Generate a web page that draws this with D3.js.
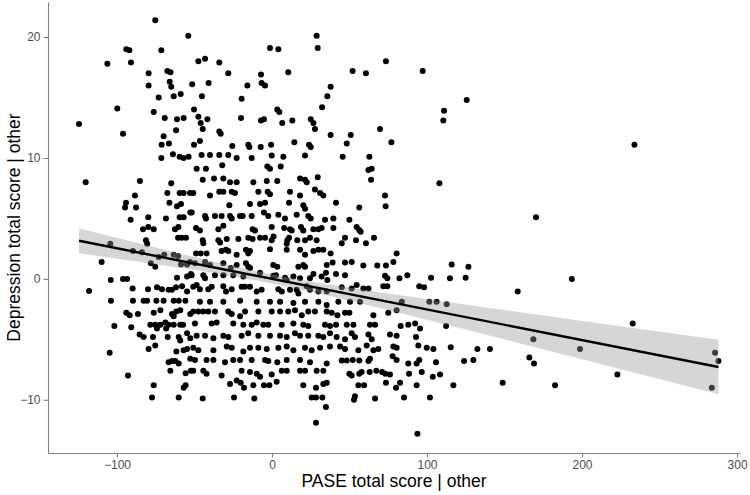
<!DOCTYPE html>
<html>
<head>
<meta charset="utf-8">
<script src="https://cdn.jsdelivr.net/npm/d3@7"></script>
<style>
  body { margin: 0; background: #fff; }
  text { font-family: "Liberation Sans", Arial, sans-serif; }
</style>
</head>
<body>
<div id="chart"></div>
<script>
// PASE total score | other  vs  Depression total score | other
const points = [
  [-75.3,21.4],[-54,20.1],[-94,19.0],[-92,18.9],[-71.4,18.9],[-106.2,17.8],[-91,17.9],[-79.6,17.0],[-67.5,17.2],[-65.5,17.1],
  [-79.6,16.0],[-66,16.3],[-65,15.9],[-73.1,15.0],[-63.4,15.1],[-58.9,15.3],[-99.8,14.1],[-76.3,13.8],[-124.5,12.8],[-69.2,13.3],
  [-61.3,13.2],[-57,13.3],[-96.1,12.0],[-61.9,12.3],[-69.9,11.8],[-71.2,11.1],[-66.5,11.2],[-63.9,10.3],
  [-71.4,10.0],[-59.6,10.1],[-57,10.0],[-53.8,10.1],[-120.2,8.0],[-85.2,8.1],[-65,7.9],[-88.4,6.9],[-67.5,7.1],[-59.6,7.1],
  [-57,7.1],[-52.9,7.1],[-94.2,6.3],[-94.8,5.9],[-87.7,5.9],[-66.2,6.3],[-61.3,6.0],[-58.7,6.2],[-52.7,5.5],[-91.2,4.9],
  [-79.8,5.1],[-68.4,5.0],[-59.6,5.1],[-57,5.1],[-83.2,4.1],[-79.8,4.3],[-76.3,4.1],[-62.6,4.1],[-60.4,4.3],[-81.3,3.2],
  [-80.5,2.9],[-60.6,3.4],[-58.3,3.4],[-55.5,3.4],[-104.3,2.9],[-89.7,2.3],[-83.9,2.2],[-73.1,1.8],[-69.5,2.0],[-63.4,2.0],
  [-60.6,1.9],[-109.9,1.4],[-78.1,1.3],[-75.3,1.0],[-58.7,1.2],[-54.8,1.2],[-54.8,0.2],[-52.3,0.4],[-61.3,0.1],[-104,-0.1],
  [-96.1,0],[-93.5,0],[-118,-1.0],[-89.9,-0.8],[-80,-0.85],[-74.2,-0.7],[-71,-0.85],[-66.7,-0.9],[-64.5,-0.9],[-61.9,-0.7],
  [-58,-0.6],[-54.8,-1.05],[-103.9,-1.8],[-89.7,-1.8],[-82.8,-1.8],[-80.6,-1.8],[-74.6,-1.8],[-69.9,-1.8],[-63.4,-1.8],[-60.2,-1.8],
  [-55.9,-1.8],
  [-94,-2.8],[-91.8,-3.0],[-86.5,-2.9],[-76.3,-2.8],[-72,-2.6],[-64.5,-2.9],[-61.7,-2.7],[-59.2,-2.6],[-63.4,-3.1],[-52.7,-2.9],
  [-101.7,-3.9],[-90.8,-4.0],[-78.5,-3.8],[-75.3,-3.8],[-72,-3.8],[-68.8,-3.6],[-66.7,-3.8],[-63.4,-3.8],[-59.2,-3.8],[-57.4,-3.8],
  [-74.2,-4.1],[-68.3,-4.1],[-85.4,-4.6],[-82.8,-4.8],[-76.8,-4.8],[-67.3,-4.8],[-60.2,-4.8],[-59.2,-5.1],[-54.8,-4.5],[-52.7,-4.9],
  [-75.3,-5.5],[-104.7,-6.1],[-79.6,-5.8],[-61.7,-6.0],[-57,-5.9],[-54.8,-5.8],[-52.7,-6.6],[-66.7,-6.9],[-64.5,-6.8],[-62.4,-6.8],
  [-60.2,-7.0],[-65.6,-7.6],[-55.7,-7.8],[-52.3,-7.6],[-92.9,-8.0],[-76.3,-8.8],[-57,-9.0],[-55.7,-8.8],[-77.4,-9.8],[-60.2,-9.8],
  [28.8,20.1],[29.5,19.1],[-1.3,19.1],[4.1,19.0],[-47.5,18.0],[-43.2,18.2],[-34,17.9],[-28.2,17.0],[-7.1,16.9],[10.5,17.1],
  [-51.5,16.1],[-40.9,16.2],[-15.9,16.0],[-6.7,16.2],[-4.5,16.0],[37.8,15.9],[-45.2,15.1],[-19.6,14.9],[35.7,15.1],[32.3,14.2],
  [-50.3,14.0],[3.4,14.0],[4.7,13.8],[-47.5,13.4],[-46,12.9],[-41.7,13.2],[-20,13.3],[-7.1,13.1],[-5.2,13.2],[6.6,12.9],
  [13.1,13.1],[25,13.2],[26.7,12.9],[27.7,12.4],[-44.7,12.4],[-34,12.2],[-33.1,12.0],[37.8,11.9],[-50.3,11.1],[-46.5,11.4],
  [-25.6,11.0],[-15.3,11.1],[-14.6,10.9],[-7.3,10.9],[-0.6,11.1],[14.4,11.3],[23.9,11.1],[25,10.9],
  [-45.4,10.25],[-40,10.25],[-34,10.25],[-28.2,10.25],[-22.8,10.0],[-13.1,10.0],[-0.2,10.2],[7.3,10.1],[21.3,10.2],
  [-48.6,9.1],[-42.6,9.1],[-32.1,9.4],[-3,9.3],[-1.3,9.1],[5.6,9.3],
  [-44.7,8.2],[-37.4,8.3],[-31.4,8.3],[-27.1,8.0],[-22.8,8.0],[-12,8.0],[-3.4,8.1],[3.4,8.1],[18.1,8.3],[21.3,8.2],[22.4,8.0],[29.5,8.4],
  [-50.8,7.1],[-40,6.9],[-34,7.2],[-31.4,7.2],[-26,7.2],[-23.9,7.1],[-8.8,7.2],[-2.8,7.2],[-1.3,7.0],[11.6,7.2],[18.1,6.9],[27.7,7.4],[31,7.1],[33.1,6.9],
  [-27.5,6.1],[-14.2,6.2],[-7.7,6.2],[-4.5,6.3],[11,6.3],[20.2,6.1],[21.3,5.8],
  [-51.8,5.5],[-43.2,5.2],[-42.6,5.0],[-36.8,5.2],[-32.5,5.2],[-27.1,5.2],[-26,5.0],[-20.6,5.2],[-18.9,5.2],[-13.1,5.2],
  [-5.2,5.5],[-2.4,5.2],[4.1,5.3],[8.4,5.0],[15.9,5.3],[23.4,5.2],[25,5.0],[34.2,4.9],[39.6,5.0],
  [-49,4.2],[-46.5,4.0],[-34.6,4.1],[-31.4,4.4],[-12.5,4.1],[-11,4.0],[-0.2,4.3],[7.9,4.2],[11.6,4.1],[12.7,4.0],
  [18.7,4.3],[20.2,4.0],[26.7,4.1],[29.9,4.1],[32,4.2],[39.6,4.2],
  [-44.7,3.2],[-44.3,2.95],[-34.6,3.2],[-33.5,3.0],[-29.2,3.3],[-21.7,3.3],[-15.3,3.4],[-12.5,3.3],[-7.7,3.4],[-4.5,3.4],
  [-0.2,3.2],[1,3.5],[9.9,3.2],[11,3.4],[9.5,2.9],[16.3,3.2],[21.3,3.2],[24.5,3.4],[28.8,3.2],
  [-49,2.1],[-46,2.1],[-42.2,2.1],[-32.5,2.3],[-29.7,2.4],[-28.2,2.3],[-22.8,2.0],[-16.8,2.4],[-15.3,2.1],[-14.2,2.3],
  [-1.3,2.45],[9.5,2.4],[18.1,2.4],[21.3,2.0],[26.7,2.3],[29.9,2.4],[33.1,2.4],[37.8,2.1],
  [-52.9,1.4],[-49.7,1.3],[-43.2,1.4],[-40,1.15],[-31.4,1.3],[-26.6,0.9],[-22.8,1.15],[-16.8,1.3],[-15.3,1.0],[-14.2,0.9],
  [0.8,1.15],[3.4,1.0],[17,1.0],[20.2,1.15],[21.3,1.0],[35.3,1.15],[34.8,0.5],
  [-51.8,0.3],[-44.3,0.3],[-43.2,0.05],[-36.8,0.3],[-31.4,0.3],[-25,0.3],[-18.5,0.2],[-7.7,0.5],[0.8,0.25],[2.6,0.3],
  [8.4,0.1],[9.5,-0.1],[13.8,0.2],[18.1,0.05],[24.5,0.05],[26.7,0.4],[32,0.2],[35.7,-0.1],
  [-50.8,-0.65],[-48.6,-0.5],[-46.5,-0.85],[-41.1,-0.85],[-38.9,-0.65],[-31.4,-0.6],[-29.7,-1.05],[-26,-0.85],[-19.6,-0.65],[-17.4,-0.65],
  [-14.2,-0.65],[-9.9,-1.05],[-6.7,-0.9],[4.1,-0.85],[6.3,-1.05],[11.6,-0.9],[15.9,-0.9],[17,-1.2],[22.4,-0.6],[24.5,-0.9],
  [29.9,-1.05],[35.3,-1.05],
  [-46.5,-1.9],[-40,-1.9],[-31.4,-1.9],[-20.6,-1.8],[-9.9,-1.9],[-1.3,-1.9],[5.2,-1.9],[13.8,-2.0],[21.3,-1.9],[29.9,-1.9],[35.3,-2.15],
  [-50.8,-2.7],[-47.5,-2.7],[-44.3,-2.7],[-41.1,-2.7],[-36.8,-2.7],[-28.2,-2.7],[-26,-2.9],[-20.6,-3.1],[-17.4,-2.7],[-8.8,-2.7],
  [-0.2,-2.7],[5.2,-2.7],[10.5,-2.7],[14.8,-2.6],[19.2,-3.0],[23.4,-2.7],[27.7,-2.7],[35.3,-2.7],
  [-49.7,-3.7],[-38.9,-3.7],[-35.7,-3.6],[-25,-3.7],[-18.5,-3.8],[-13.1,-3.8],[-9.9,-3.6],[-5.6,-3.8],[-2.4,-3.8],[6.3,-3.8],
  [13.8,-3.7],[20.2,-3.8],[23.4,-3.9],[34.2,-3.8],[37.4,-3.9],
  [-48.6,-4.7],[-43.2,-4.7],[-37.8,-4.9],[-31.4,-4.7],[-28.2,-4.8],[-19.6,-4.7],[-15.3,-4.5],[-8.8,-4.7],[-1.3,-4.7],[5.2,-4.7],
  [9.5,-4.8],[14.8,-4.5],[18.1,-4.7],[23.4,-4.7],[29.9,-4.7],[33.1,-4.8],[37.4,-4.5],
  [-50.8,-5.7],[-47.5,-5.9],[-37.8,-5.9],[-29.2,-5.6],[-26,-5.7],[-18.5,-6.0],[-14.2,-5.7],[-8.8,-5.7],[-3.4,-5.8],[4.1,-5.7],
  [9.5,-5.6],[13.8,-5.9],[21.3,-5.7],[25.6,-5.9],[31,-5.7],[37.4,-5.6],
  [-49.7,-6.7],[-42.2,-6.7],[-37.8,-6.7],[-30.3,-6.9],[-25,-6.7],[-20.6,-6.7],[-13.1,-6.7],[-4.5,-6.7],[-2.4,-6.8],[3.4,-6.9],
  [9.5,-6.7],[18.1,-6.7],[24.5,-6.9],[35.3,-7.0],
  [-50.8,-7.6],[-44.3,-7.6],[-42.2,-7.85],[-32.5,-8.0],[-19.6,-7.6],[-14.2,-7.7],[-9.9,-7.85],[-7.7,-8.1],[-0.2,-7.9],[6.3,-7.6],
  [9.5,-7.6],[18.1,-7.6],[21.3,-7.6],[28.8,-7.6],[33.1,-7.6],
  [-27.1,-8.7],[-22.8,-8.4],[-20.2,-8.6],[-18.1,-9.0],[-12,-8.8],[-5.2,-8.8],[-1.7,-8.8],[3,-8.5],[20.2,-8.8],[28.4,-9.0],
  [33.1,-8.7],[35.3,-8.6],
  [-44.7,-9.9],[-24.5,-9.8],[-11.4,-9.9],[25.6,-9.8],[28.4,-9.8],[32.5,-9.8],[34.8,-10.6],[28.4,-11.9],
  [73.5,18.0],[52,17.2],[60.6,17.0],[97.2,17.2],[125.6,14.8],[111,13.9],[110.5,13.1],[69.7,12.4],[50.8,11.9],[48.2,11.2],[77,11.3],
  [45.6,10.1],[62.8,10.1],[62.2,9.0],[64.3,9.1],[63.9,8.2],[108,7.9],[72.9,6.9],[73.3,6.0],[41.3,6.3],[56.3,5.9],
  [49.9,4.9],[54.6,4.3],[56.3,4.05],[57.2,3.9],[47.1,3.4],[45,2.95],[54.2,3.2],[60.6,2.95],[65.8,3.4],[80.4,2.1],
  [39.1,1.35],[47.1,1.35],[51.4,1.4],[58.9,1.1],[67.9,1.1],[73.5,1.1],[78.3,1.4],[115.9,1.2],[126.7,1.0],
  [41.3,0.4],[47.1,0.3],[72.9,0.25],[74.4,0.05],[82.2,0.05],[87.3,0.3],[102.6,0.1],[114.8,0.05],[124.9,0.1],
  [45,-0.7],[51.4,-0.8],[54.6,-0.5],[58.9,-0.8],[62.2,-0.8],[71.8,-0.6],[74.4,-0.6],[95,-0.6],[98.1,-0.7],
  [42.8,-1.9],[50.3,-1.9],[56.8,-1.9],[83.7,-1.9],[101.5,-1.9],[106.2,-1.9],[112.7,-2.1],
  [38.5,-2.8],[42.2,-3.0],[47.1,-2.8],[49.9,-2.8],[65.4,-3.0],[75,-2.8],[80.4,-2.6],
  [41.3,-3.8],[48.2,-3.8],[52.5,-3.8],[63.2,-3.8],[66.5,-3.8],[83,-3.9],[87.9,-3.8],[92.3,-3.7],[95.5,-4.1],[112.3,-3.9],
  [41.7,-4.8],[51.4,-4.5],[53.5,-4.8],[62.2,-4.6],[64.3,-5.0],[76.1,-4.6],[80.4,-4.7],[92.9,-4.8],[47.1,-5.0],
  [43.9,-5.6],[47.1,-5.8],[55.7,-5.9],[61.1,-5.5],[65.4,-5.9],[68.6,-5.8],[78.3,-5.6],[80.4,-5.7],[94.4,-5.5],[99.8,-5.7],
  [104.1,-5.8],[115.3,-5.65],
  [45,-6.75],[48.2,-6.75],[52.1,-6.7],[56.3,-6.75],[62.2,-6.8],[63.2,-6.6],[77.8,-6.4],[80.4,-6.7],[87.9,-7.0],[93.3,-7.0],
  [95,-6.7],[105.8,-6.9],[123.9,-6.8],[129.9,-6.7],
  [49.9,-7.85],[51.4,-8.0],[56.3,-7.85],[57.8,-7.7],[63,-7.7],[67.3,-7.6],[71,-7.7],[73.1,-7.85],[76.1,-7.9],[88.4,-7.85],
  [96.6,-7.7],[103.7,-8.1],[108.4,-7.9],
  [55.7,-8.8],[59.4,-8.8],[73.5,-8.6],[80,-9.0],[82.6,-8.6],[93.3,-8.8],[117,-8.8],
  [53.5,-9.7],[52.9,-10.0],[66.5,-9.9],[85.2,-9.8],[101.9,-9.8],[93.8,-12.8],
  [233.8,11.1],[170.3,5.1],[158.5,-1.05],[193.4,0.0],[132.5,-5.8],[140.6,-5.8],[148.8,-8.6],[166,-6.5],[169,-7.0],[168.6,-5.0],
  [182.6,-8.8],[198.7,-5.8],[222.8,-7.9],[232.7,-3.7],[285.8,-6.1],[288,-6.8],[283.7,-9.0]
];

const xTicks = [-100, 0, 100, 200, 300];
const yTicks = [-10, 0, 10, 20];
const xDomain = [-144.5, 301.9];
const yDomain = [-14.4, 22.9];

// lm fit (added-variable plot), 95% band half-width = sqrt(a^2 + (b*x)^2)
const fitIntercept = 0.0;
const fitSlope = -0.0253;
const bandA = 0.377;
const bandB = 0.00771;
const fitRange = [-124.5, 288];

const width = 750, height = 495;
const panelLeft = 48, panelRight = 740, panelTop = 2, panelBottom = 453;

const svg = d3.select("#chart")
  .append("svg")
  .attr("width", width)
  .attr("height", height);

const x = d3.scaleLinear().domain(xDomain).range([panelLeft, panelRight]);
const y = d3.scaleLinear().domain(yDomain).range([panelBottom, panelTop]);

// points
svg.append("g")
  .selectAll("circle")
  .data(points)
  .enter()
  .append("circle")
  .attr("cx", d => x(d[0]))
  .attr("cy", d => y(d[1]))
  .attr("r", 3)
  .attr("fill", "#000");

// confidence band + fitted line
const xs = d3.range(fitRange[0], fitRange[1] + 0.001, (fitRange[1] - fitRange[0]) / 100);
const fitted = v => fitIntercept + fitSlope * v;
const half = v => Math.sqrt(bandA * bandA + bandB * bandB * v * v);

svg.append("path")
  .datum(xs)
  .attr("d", d3.area()
    .x(d => x(d))
    .y0(d => y(fitted(d) - half(d)))
    .y1(d => y(fitted(d) + half(d))))
  .attr("fill", "#999999")
  .attr("fill-opacity", 0.4);

svg.append("path")
  .datum(fitRange)
  .attr("d", d3.line().x(d => x(d)).y(d => y(fitted(d))))
  .attr("stroke", "#000")
  .attr("stroke-width", 2.4)
  .attr("fill", "none");

// axes
const xAxis = svg.append("g")
  .attr("transform", "translate(0," + panelBottom + ")")
  .call(d3.axisBottom(x).tickValues(xTicks).tickSize(4.5).tickSizeOuter(0).tickPadding(3));
const yAxis = svg.append("g")
  .attr("transform", "translate(" + panelLeft + ",0)")
  .call(d3.axisLeft(y).tickValues(yTicks).tickSize(4.5).tickSizeOuter(0).tickPadding(3));

[xAxis, yAxis].forEach(g => {
  g.select(".domain").attr("stroke", "#808080").attr("stroke-width", 1.1);
  g.selectAll(".tick line").attr("stroke", "#808080").attr("stroke-width", 1.1);
  g.selectAll(".tick text")
    .attr("fill", "#4d4d4d")
    .style("font-size", "12px")
    .style("font-family", "'Liberation Sans', Arial, sans-serif");
});

svg.append("text")
  .attr("x", (panelLeft + panelRight) / 2)
  .attr("y", 487)
  .attr("text-anchor", "middle")
  .style("font-size", "17.5px")
  .attr("fill", "#000")
  .text("PASE total score | other");

svg.append("text")
  .attr("transform", "translate(20," + (panelTop + panelBottom) / 2 + ") rotate(-90)")
  .attr("text-anchor", "middle")
  .style("font-size", "17.5px")
  .attr("fill", "#000")
  .text("Depression total score | other");
</script>
</body>
</html>
